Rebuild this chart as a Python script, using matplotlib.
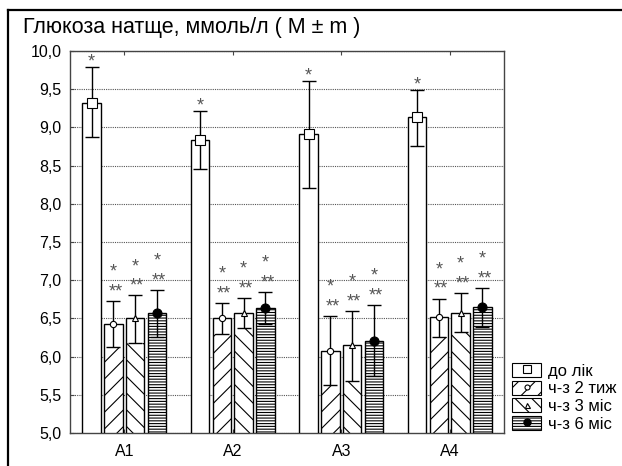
import numpy as np
import matplotlib
matplotlib.use('Agg')
import matplotlib.pyplot as plt
from matplotlib.patches import Patch
from matplotlib.lines import Line2D
from matplotlib.legend_handler import HandlerTuple

plt.rcParams['font.family'] = ['Liberation Sans', 'DejaVu Sans']
plt.rcParams['hatch.linewidth'] = 0.8

# values
groups = ['A1', 'A2', 'A3', 'A4']
labels = ['до лік', 'ч-з 2 тиж', 'ч-з 3 міс', 'ч-з 6 міс']
before = [9.32, 8.84, 8.91, 9.13]
before_lo = [8.87, 8.46, 8.21, 8.76]
before_hi = [9.79, 9.21, 9.61, 9.49]
wk2 = [6.43, 6.51, 6.07, 6.52]
wk2_lo = [6.12, 6.30, 5.63, 6.26]
wk2_hi = [6.73, 6.70, 6.53, 6.76]
mo3 = [6.50, 6.57, 6.15, 6.57]
mo3_lo = [6.18, 6.37, 5.68, 6.32]
mo3_hi = [6.80, 6.77, 6.60, 6.83]
mo6 = [6.57, 6.64, 6.20, 6.65]
mo6_lo = [6.26, 6.43, 5.74, 6.39]
mo6_hi = [6.87, 6.84, 6.67, 6.90]

series = [(before, before_lo, before_hi), (wk2, wk2_lo, wk2_hi),
          (mo3, mo3_lo, mo3_hi), (mo6, mo6_lo, mo6_hi)]
hatches = ['', '//', '\\\\', '------']
markers = [('s', 'white', 7), ('o', 'white', 4.5), ('^', 'white', 4.5),
           ('o', 'black', 6.5)]
# white region above lower whisker for these
split = [False, True, True, False]

fig = plt.figure(figsize=(6.22, 4.66), dpi=100)
ax = fig.add_axes([70/622, 1-433/466, 434/622, 382/466])

x = np.arange(len(groups))
w = 0.17
step = 0.2
star_kw = dict(ha='center', va='baseline', fontsize=13, color='#555555',
               zorder=6)
for i, (m, lo, hi) in enumerate(series):
    m, lo, hi = np.array(m), np.array(lo), np.array(hi)
    xi = x + (i - 1.5) * step
    if split[i]:
        ax.bar(xi, lo, width=w, color='white', edgecolor='black',
               hatch=hatches[i], linewidth=0, zorder=2)
        ax.bar(xi, m - lo, bottom=lo, width=w, color='white',
               linewidth=0, zorder=2)
    else:
        ax.bar(xi, m, width=w, color='white', edgecolor='black',
               hatch=hatches[i], linewidth=0, zorder=2)
    ax.bar(xi, m, width=w, fill=False, edgecolor='black', linewidth=1,
           zorder=3)
    ax.errorbar(xi, m, yerr=[m - lo, hi - m], fmt='none', ecolor='black',
                elinewidth=1, capsize=5, capthick=1, zorder=4)
    mk, fc, ms = markers[i]
    ax.plot(xi, m, ls='none', marker=mk, mfc=fc, mec='black', ms=ms,
            mew=0.8, zorder=5)
    # significance marks
    for xx, h in zip(xi, hi):
        if i == 0:
            ax.text(xx, h + 0.01, '*', **star_kw)
        else:
            ax.text(xx + 0.02, h + 0.06, '**', **star_kw)
            ax.text(xx, h + 0.32, '*', **star_kw)

ax.set_xlim(-0.5, len(groups) - 0.5)
ax.set_ylim(5, 10)
ax.set_yticks(np.arange(5, 10.01, 0.5))
ax.set_yticklabels([f'{v:.1f}'.replace('.', ',') for v in np.arange(5, 10.01, 0.5)])
ax.set_xticks(x)
ax.set_xticklabels(groups)
ax.tick_params(axis='both', labelsize=11.5, direction='in', length=3,
               color='#444444', top=True)
ax.tick_params(axis='y', left=True, right=False, pad=6)
ax.tick_params(axis='x', pad=8)
ax.yaxis.grid(True, linestyle=(0, (1, 1)), color='#555555', linewidth=0.8)
ax.set_axisbelow(True)
for s in ax.spines.values():
    s.set_color('#444444')
    s.set_linewidth(1)

fig.text(23/622, 1-27/466, 'Глюкоза натще, ммоль/л ( M ± m )',
         fontsize=15.5, va='center', ha='left')

handles = []
for i in range(4):
    mk, fc, ms = markers[i]
    handles.append((Patch(facecolor='white', edgecolor='black', hatch=hatches[i],
                          linewidth=0.8),
                    Line2D([], [], ls='none', marker=mk, mfc=fc, mec='black',
                           ms=ms * 0.8, mew=0.8)))
fig.legend(handles, labels, handler_map={tuple: HandlerTuple(ndivide=1)},
           loc='upper left', bbox_to_anchor=(512/622, 1-363/466),
           frameon=False, fontsize=12, handlelength=1.75, handleheight=0.9,
           labelspacing=0.12, handletextpad=0.42, borderpad=0, borderaxespad=0)

# frame around the figure (left and top edges visible)
fig.add_artist(Line2D([8/622, 8/622], [0, 1-10/466], color='black', lw=1.6,
                      transform=fig.transFigure))
fig.add_artist(Line2D([8/622, 1], [1-10/466, 1-10/466], color='black', lw=1.6,
                      transform=fig.transFigure))

fig.savefig('out.png', dpi=100)
